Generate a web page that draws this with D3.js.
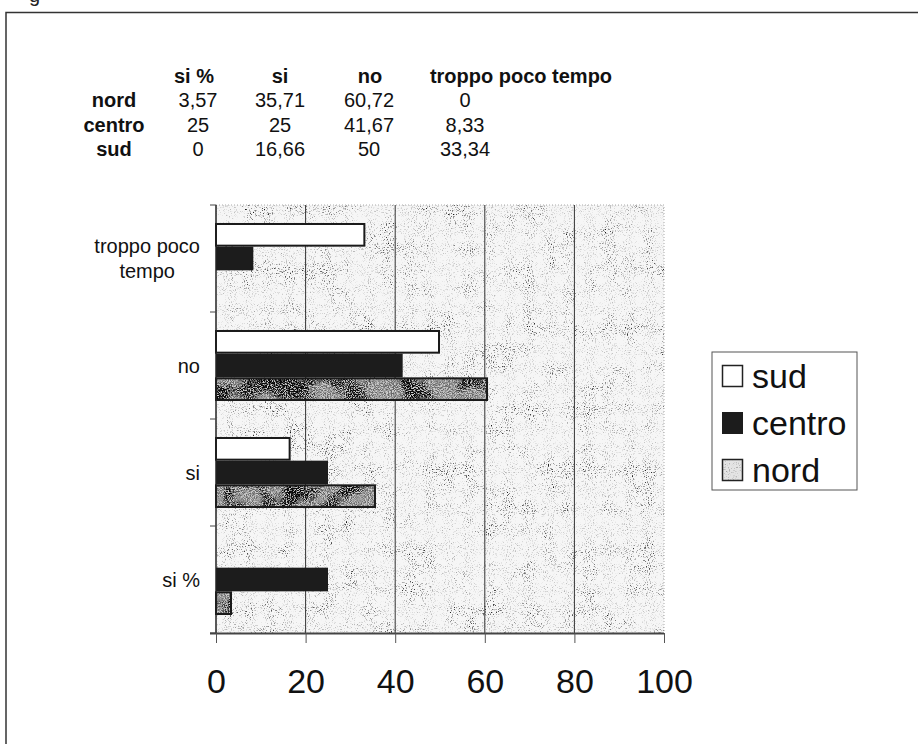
<!DOCTYPE html>
<html>
<head>
<meta charset="utf-8">
<script src="https://cdn.jsdelivr.net/npm/d3@7"></script>
<style>
  body { margin: 0; background: #fff; }
  svg { display: block; font-family: "Liberation Sans", Arial, sans-serif; }
</style>
</head>
<body>
<svg id="chart"></svg>
<script>
// dati della tabella (ordine delle colonne come nel foglio)
const categories = ["si %", "si", "no", "troppo poco tempo"];
const regions = ["nord", "centro", "sud"];
const nord = [3.57, 35.71, 60.72, 0];
const centro = [25, 25, 41.67, 8.33];
const sud = [0, 16.66, 50, 33.34];
const xTicks = [0, 20, 40, 60, 80, 100];
const legendOrder = ["sud", "centro", "nord"];

const values = { nord: nord, centro: centro, sud: sud };

const W = 918, H = 744;
const svg = d3.select("#chart").attr("width", W).attr("height", H);

// texture "scansione" per lo sfondo e le barre nord
const defs = svg.append("defs");
function noiseFilter(id, tone, fineOff, k1, k2, seed) {
  const f = defs.append("filter").attr("id", id)
    .attr("x", 0).attr("y", 0).attr("width", 1).attr("height", 1)
    .attr("color-interpolation-filters", "sRGB");
  f.append("feTurbulence").attr("type", "fractalNoise").attr("baseFrequency", 0.95)
    .attr("numOctaves", 2).attr("seed", seed).attr("result", "fine");
  f.append("feColorMatrix").attr("in", "fine").attr("type", "matrix")
    .attr("values", `0 0 0 0 ${tone}  0 0 0 0 ${tone}  0 0 0 0 ${tone}  -3 0 0 0 ${fineOff}`).attr("result", "dots");
  f.append("feTurbulence").attr("type", "fractalNoise").attr("baseFrequency", 0.035)
    .attr("numOctaves", 2).attr("seed", seed + 5).attr("result", "coarse");
  f.append("feColorMatrix").attr("in", "coarse").attr("type", "matrix")
    .attr("values", "0 0 0 0 0  0 0 0 0 0  0 0 0 0 0  -4 0 0 0 2.2").attr("result", "blot");
  f.append("feComposite").attr("in", "dots").attr("in2", "blot").attr("operator", "arithmetic")
    .attr("k1", k1).attr("k2", k2).attr("k3", 0).attr("k4", 0).attr("result", "mix");
  f.append("feComposite").attr("in", "mix").attr("in2", "SourceGraphic").attr("operator", "in");
}
noiseFilter("speckle", 0.25, 1.3, 0.8, 0.45, 3);
noiseFilter("speckleDense", 0.08, 2.0, 1.1, 0.55, 11);

// cornice della figura
svg.append("text").attr("x", 29).attr("y", 2).attr("font-size", 20).attr("fill", "#222").text("g");
svg.append("path").attr("d", `M6,${H} V12.5 H${W}`).attr("fill", "none")
  .attr("stroke", "#333").attr("stroke-width", 1.5);

// tabella
const colX = [198, 280, 369, 465];
const headX = [194, 280, 370, 521];
const rowY0 = 83, rowStep = 24.3;
const table = svg.append("g").attr("font-size", 20).attr("fill", "#111");
table.selectAll("text.head").data(categories).join("text")
  .attr("class", "head")
  .attr("x", (d, i) => headX[i]).attr("y", rowY0)
  .attr("text-anchor", "middle").attr("font-weight", "bold").text(d => d);
regions.forEach((r, ri) => {
  const y = rowY0 + rowStep * (ri + 1);
  table.append("text").attr("x", 114).attr("y", y).attr("text-anchor", "middle")
    .attr("font-weight", "bold").text(r);
  table.selectAll(null).data(values[r]).join("text")
    .attr("x", (d, i) => colX[i]).attr("y", y).attr("text-anchor", "middle")
    .text(d => String(d).replace(".", ","));
});

// grafico a barre orizzontali
const plot = { left: 216, right: 664, top: 205, bottom: 633 };
const x = d3.scaleLinear().domain([0, 100]).range([plot.left, plot.right]);
const y = d3.scaleBand().domain(categories.slice().reverse()).range([plot.top, plot.bottom]);
const yInner = d3.scaleBand().domain(legendOrder).range([0, y.bandwidth()]).paddingOuter(0.76);

const pw = plot.right - plot.left, ph = plot.bottom - plot.top;
svg.append("rect").attr("x", plot.left).attr("y", plot.top).attr("width", pw).attr("height", ph)
  .attr("fill", "#f6f6f6");
svg.append("rect").attr("x", plot.left).attr("y", plot.top).attr("width", pw).attr("height", ph)
  .attr("fill", "#fff").attr("filter", "url(#speckle)");

// bordo del riquadro (tenue) e griglia
svg.append("path")
  .attr("d", `M${plot.left},${plot.top} H${plot.right} V${plot.bottom}`)
  .attr("fill", "none").attr("stroke", "#aaa").attr("stroke-dasharray", "1,2");
svg.append("g").selectAll("line").data(xTicks.filter(t => t > 0 && t < 100)).join("line")
  .attr("x1", d => x(d)).attr("x2", d => x(d))
  .attr("y1", plot.top).attr("y2", plot.bottom)
  .attr("stroke", "#333").attr("stroke-width", 1);

// barre
const bars = svg.append("g");
categories.forEach((c, ci) => {
  legendOrder.forEach(s => {
    const v = values[s][ci];
    if (v <= 0) return;
    const by = y(c) + yInner(s), bh = yInner.bandwidth();
    const bw = x(v) - x(0);
    if (s === "centro") {
      bars.append("rect").attr("x", x(0)).attr("y", by).attr("width", bw).attr("height", bh)
        .attr("fill", "#1c1c1c");
    } else if (s === "sud") {
      bars.append("rect").attr("x", x(0)).attr("y", by + 1).attr("width", bw - 1).attr("height", bh - 2)
        .attr("fill", "#fff").attr("stroke", "#1a1a1a").attr("stroke-width", 2);
    } else {
      bars.append("rect").attr("x", x(0)).attr("y", by + 1).attr("width", bw - 1).attr("height", bh - 2)
        .attr("fill", "#cdcdcd");
      bars.append("rect").attr("x", x(0)).attr("y", by + 1).attr("width", bw - 1).attr("height", bh - 2)
        .attr("fill", "#fff").attr("filter", "url(#speckleDense)");
      bars.append("rect").attr("x", x(0)).attr("y", by + 1).attr("width", bw - 1).attr("height", bh - 2)
        .attr("fill", "none").attr("stroke", "#1a1a1a").attr("stroke-width", 2);
    }
  });
});

// asse y
svg.append("line").attr("x1", plot.left).attr("x2", plot.left)
  .attr("y1", plot.top).attr("y2", plot.bottom).attr("stroke", "#222").attr("stroke-width", 1.5);
const bounds = y.domain().map(d => y(d)).concat([plot.bottom]);
svg.append("g").selectAll("line").data(bounds).join("line")
  .attr("x1", plot.left - 6).attr("x2", plot.left).attr("y1", d => d).attr("y2", d => d)
  .attr("stroke", "#444");

// etichette categorie (a capo come in Excel)
const labG = svg.append("g").attr("font-size", 20).attr("fill", "#111");
function wrapWords(text, maxW) {
  const tmp = labG.append("text");
  const words = text.split(" ");
  const lines = [];
  let cur = "";
  words.forEach(w => {
    const tryLine = cur ? cur + " " + w : w;
    tmp.text(tryLine);
    if (tmp.node().getComputedTextLength() > maxW && cur) { lines.push(cur); cur = w; }
    else cur = tryLine;
  });
  lines.push(cur);
  const widths = lines.map(l => { tmp.text(l); return tmp.node().getComputedTextLength(); });
  tmp.remove();
  return { lines, maxW: d3.max(widths) };
}
y.domain().forEach(c => {
  const { lines, maxW } = wrapWords(c, 115);
  const cy = y(c) + y.bandwidth() / 2;
  const lh = 25;
  const t = labG.append("text").attr("text-anchor", "middle")
    .attr("x", 200 - maxW / 2);
  lines.forEach((l, i) => {
    t.append("tspan").attr("x", 200 - maxW / 2)
      .attr("y", cy + (i - (lines.length - 1) / 2) * lh)
      .attr("dy", "0.35em").text(l);
  });
});

// asse x
const xAxis = svg.append("g").attr("transform", `translate(0,${plot.bottom})`)
  .call(d3.axisBottom(x).tickValues(xTicks).tickSizeInner(10).tickSizeOuter(0).tickPadding(26));
xAxis.select(".domain").attr("stroke", "#444").attr("stroke-width", 2)
  .attr("d", `M${plot.left - 6},0.5H${plot.right}`);
xAxis.selectAll(".tick line").attr("stroke", "#555");
xAxis.selectAll(".tick text").attr("font-size", 34).attr("fill", "#111")
  .style("font-family", "'Liberation Sans', Arial, sans-serif");

// legenda
const leg = svg.append("g").attr("transform", "translate(712,352)");
leg.append("rect").attr("width", 145).attr("height", 138).attr("fill", "#fff")
  .attr("stroke", "#555").attr("stroke-width", 1);
legendOrder.forEach((s, i) => {
  const g = leg.append("g").attr("transform", `translate(10,${13 + i * 47})`);
  if (s === "centro") {
    g.append("rect").attr("width", 21).attr("height", 22).attr("fill", "#1c1c1c");
  } else if (s === "sud") {
    g.append("rect").attr("x", 0.5).attr("y", 0.5).attr("width", 20).attr("height", 21)
      .attr("fill", "#fff").attr("stroke", "#222").attr("stroke-width", 1.5);
  } else {
    g.append("rect").attr("width", 21).attr("height", 22).attr("fill", "#e4e4e4");
    g.append("rect").attr("width", 21).attr("height", 22).attr("fill", "#fff").attr("filter", "url(#speckle)");
    g.append("rect").attr("x", 0.5).attr("y", 0.5).attr("width", 20).attr("height", 21)
      .attr("fill", "none").attr("stroke", "#222").attr("stroke-width", 1.5);
  }
  g.append("text").attr("x", 30).attr("y", 11).attr("dy", "0.35em")
    .attr("font-size", 34).attr("fill", "#111").text(s);
});
</script>
</body>
</html>
